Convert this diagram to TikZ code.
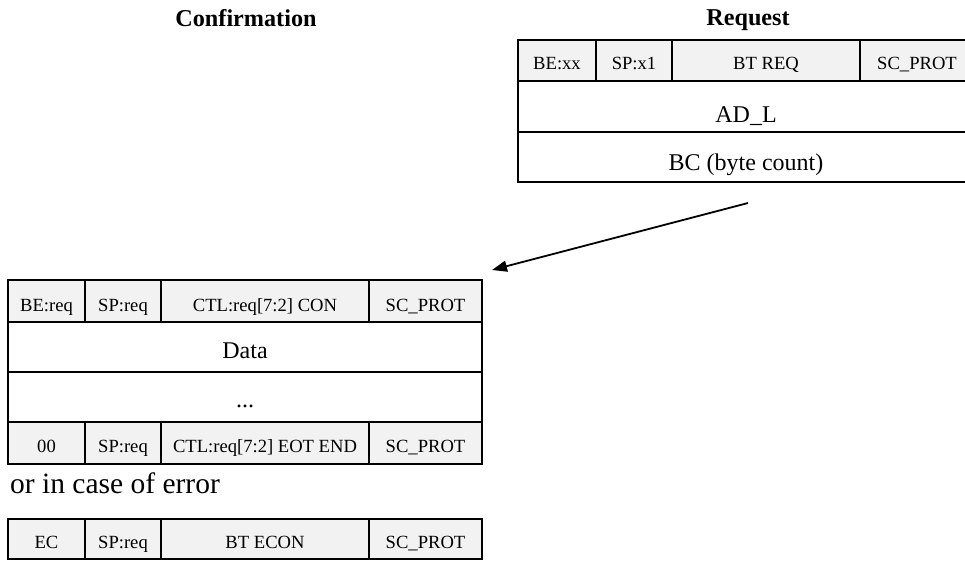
\documentclass[tikz,border=0pt]{standalone}
\usepackage{fontspec}
\setmainfont{Liberation Serif}
\usetikzlibrary{arrows.meta}
\definecolor{cellgray}{HTML}{F2F2F2}
\tikzset{
  grid/.style={line width=2.9pt, line cap=rect},
  frame/.style={draw, line width=2.9pt, line join=miter, inner sep=0pt, outer sep=0pt, anchor=north west},
  htxt/.style={anchor=base, inner sep=0pt, font=\fontsize{18.6}{20}\selectfont},
  btxt/.style={anchor=base, inner sep=0pt, font=\fontsize{24}{26}\selectfont},
  ttl/.style={anchor=base, inner sep=0pt, font=\fontsize{24.2}{26}\selectfont\bfseries},
  note/.style={anchor=base west, inner sep=0pt, font=\fontsize{29.5}{32}\selectfont},
  arr/.style={line width=1.8pt, -{Triangle[length=15pt,width=11pt]}},
}
\begin{document}
\begin{tikzpicture}[x=1pt,y=-1pt]
\useasboundingbox (0,0) rectangle (965,560);
\clip (0,0) rectangle (965,560);

% titles
\node[ttl] (conf-title) at (246,26) {Confirmation};
\node[ttl] (req-title) at (748,25) {Request};

% request frame
\fill[cellgray] (518,40) rectangle (974,81);
\draw[grid] (518,81) -- (974,81) (518,132) -- (974,132);
\draw[grid] (596,40) -- (596,81) (672,40) -- (672,81) (860,40) -- (860,81);
\node[frame, minimum width=456pt, minimum height=142pt] (req) at (518,40) {};
\node[htxt] (rq-be) at (557,69) {BE:xx};
\node[htxt] (rq-sp) at (634,69) {SP:x1};
\node[htxt] (rq-bt) at (766,69) {BT REQ};
\node[htxt] (rq-sc) at (917,69) {SC\_PROT};
\node[btxt] (rq-ad) at (746,122) {AD\_L};
\node[btxt] (rq-bc) at (746,170) {BC (byte count)};

% confirmation frame
\fill[cellgray] (8,280) rectangle (482,322);
\fill[cellgray] (8,422) rectangle (482,464);
\draw[grid] (8,322) -- (482,322) (8,372) -- (482,372) (8,422) -- (482,422);
\draw[grid] (85,280) -- (85,322) (161,280) -- (161,322) (369,280) -- (369,322);
\draw[grid] (85,422) -- (85,464) (161,422) -- (161,464) (369,422) -- (369,464);
\node[frame, minimum width=474pt, minimum height=184pt] (cnf) at (8,280) {};
\node[htxt] (cf-be) at (46.5,311) {BE:req};
\node[htxt] (cf-sp) at (123,311) {SP:req};
\node[htxt] (cf-ctl) at (265,311) {CTL:req[7:2] CON};
\node[htxt] (cf-sc) at (425.5,311) {SC\_PROT};
\node[btxt] (cf-data) at (245,358) {Data};
\node[btxt] (cf-more) at (245,407) {...};
\node[htxt] (cf-be2) at (46.5,452) {00};
\node[htxt] (cf-sp2) at (123,452) {SP:req};
\node[htxt] (cf-ctl2) at (265,452) {CTL:req[7:2] EOT END};
\node[htxt] (cf-sc2) at (425.5,452) {SC\_PROT};

\node[note] (err-note) at (10,493) {or in case of error};

% error confirmation frame
\fill[cellgray] (8,519) rectangle (482,559);
\draw[grid] (85,519) -- (85,559) (161,519) -- (161,559) (369,519) -- (369,559);
\node[frame, minimum width=474pt, minimum height=40pt] (ecn) at (8,519) {};
\node[htxt] (ec-be) at (46.5,548) {EC};
\node[htxt] (ec-sp) at (123,548) {SP:req};
\node[htxt] (ec-bt) at (265,548) {BT ECON};
\node[htxt] (ec-sc) at (425.5,548) {SC\_PROT};

% request -> confirmation
\draw[arr] ([shift={(2,21)}]req.south) -- ([shift={(10,-10)}]cnf.north east);
\end{tikzpicture}
\end{document}
